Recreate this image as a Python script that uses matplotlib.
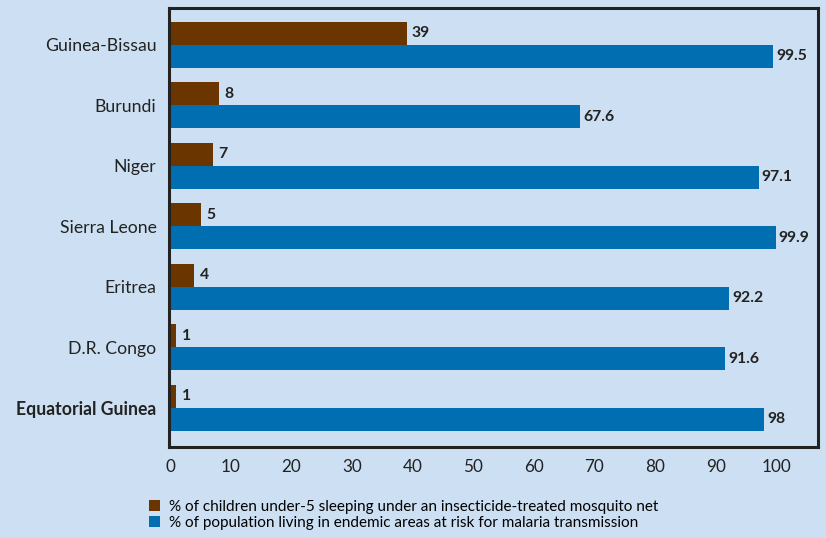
import numpy as np
import matplotlib.pyplot as plt

plt.rcParams['font.family'] = ['Lato', 'DejaVu Sans']

countries = ['Guinea-Bissau', 'Burundi', 'Niger', 'Sierra Leone', 'Eritrea',
             'D.R. Congo', 'Equatorial Guinea']
nets = [39, 8, 7, 5, 4, 1, 1]
risk = [99.5, 67.6, 97.1, 99.9, 92.2, 91.6, 98]
net_labels = ['39', '8', '7', '5', '4', '1', '1']
risk_labels = ['99.5', '67.6', '97.1', '99.9', '92.2', '91.6', '98']

bg = '#cde0f3'
brown = '#6b3500'
blue = '#006eb0'

fig = plt.figure(figsize=(8.26, 5.38), dpi=100, facecolor=bg)
ax = fig.add_axes([169 / 826, 1 - 447 / 538, (818 - 169) / 826, (447 - 8) / 538])
ax.set_facecolor(bg)

y = np.arange(len(countries))
h = 0.38
ax.barh(y - h / 2, nets, height=h, color=brown, label='% of children under-5 sleeping under an insecticide-treated mosquito net')
ax.barh(y + h / 2, risk, height=h, color=blue, label='% of population living in endemic areas at risk for malaria transmission')

for i in range(len(countries)):
    ax.text(nets[i] + 0.9, y[i] - h / 2, net_labels[i], va='center', ha='left',
            fontsize=11.3, fontweight='bold', color='#222222')
    ax.text(risk[i] + 0.5, y[i] + h / 2, risk_labels[i], va='center', ha='left',
            fontsize=11.3, fontweight='bold', color='#222222')

ax.set_xlim(-0.2, 106.9)
ax.set_ylim(6.645, -0.61)
ax.set_yticks(y)
ax.set_yticklabels(countries, fontsize=12.7, color='#222222')
ax.get_yticklabels()[-1].set_fontweight('bold')
ax.set_xticks(np.arange(0, 101, 10))
ax.tick_params(axis='x', length=0, labelsize=12.3, colors='#222222', pad=9)
ax.tick_params(axis='y', length=0, colors='#222222', pad=9)
for s in ax.spines.values():
    s.set_linewidth(2.2)
    s.set_color('#222222')

handles, labels = ax.get_legend_handles_labels()
fig.legend(handles, labels, loc='upper left', bbox_to_anchor=(149 / 826, 1 - 500 / 538),
           frameon=False, fontsize=10.95, handlelength=0.75, handleheight=0.75,
           handletextpad=0.55, labelspacing=0.1, borderaxespad=0, borderpad=0)

fig.savefig('out.png', dpi=100, facecolor=bg)
